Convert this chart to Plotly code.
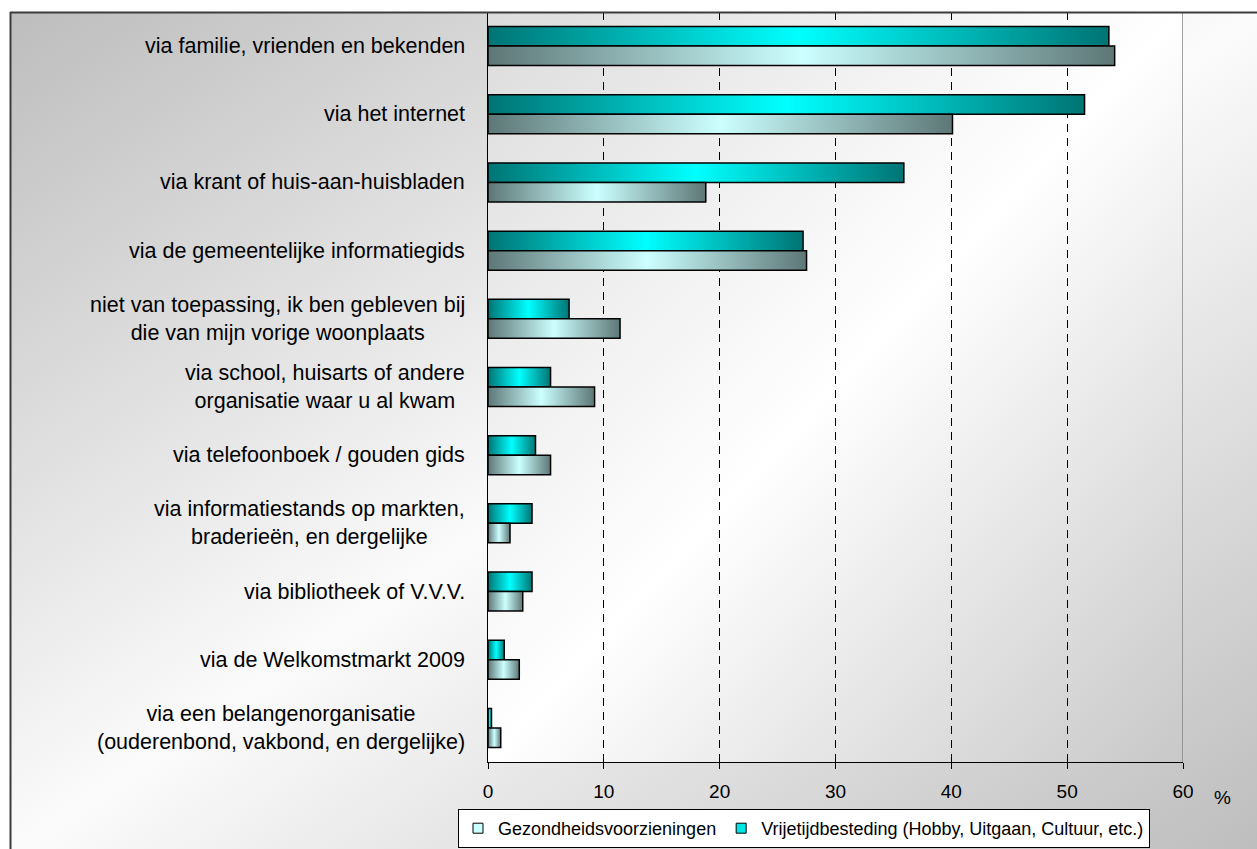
import base64
import plotly.graph_objects as go

# Categories (top to bottom) and percentages per series
categories = [
    "via familie, vrienden en bekenden",
    "via het internet",
    "via krant of huis-aan-huisbladen",
    "via de gemeentelijke informatiegids",
    "niet van toepassing, ik ben gebleven bij<br>die van mijn vorige woonplaats",
    "via school, huisarts of andere<br>organisatie waar u al kwam",
    "via telefoonboek / gouden gids",
    "via informatiestands op markten,<br>braderieën, en dergelijke",
    "via bibliotheek of V.V.V.",
    "via de Welkomstmarkt 2009",
    "via een belangenorganisatie<br>(ouderenbond, vakbond, en dergelijke)",
]
gezondheid = [54.1, 40.1, 18.8, 27.5, 11.4, 9.2, 5.4, 1.9, 3.0, 2.7, 1.1]
vrijetijd = [53.6, 51.5, 35.9, 27.2, 7.0, 5.4, 4.1, 3.8, 3.8, 1.4, 0.3]
series_names = ["Gezondheidsvoorzieningen",
                "Vrijetijdbesteding (Hobby, Uitgaan, Cultuur, etc.)"]
x_ticks = [0, 10, 20, 30, 40, 50, 60]

# Figure geometry (pixels)
W, H = 1257, 849
ML, MR, MT, MB = 488, 74, 12, 87
PW, PH = W - ML - MR, H - MT - MB


def paper_x(px):
    return (px - ML) / PW


def paper_y(py):
    return (H - MB - py) / PH


FONT = "Liberation Sans, Arial, sans-serif"
BAR_H = 0.286  # bar thickness in category units

cyan_scale = [[0, "#007474"], [0.5, "#00ffff"], [1, "#007474"]]
grey_scale = [[0, "#5e7777"], [0.5, "#ccffff"], [1, "#5e7777"]]

fig = go.Figure()

# Each bar is a filled polygon so it can carry a horizontal colour gradient
for i, (g, v) in enumerate(zip(gezondheid, vrijetijd)):
    fig.add_trace(go.Scatter(
        x=[0, v, v, 0, 0], y=[i - BAR_H, i - BAR_H, i, i, i - BAR_H],
        mode="lines", fill="toself",
        fillgradient=dict(type="horizontal", colorscale=cyan_scale),
        line=dict(color="black", width=1.5),
        name=series_names[1], legendgroup="v", showlegend=False,
        hovertemplate=f"{series_names[1]}: {v}%<extra></extra>",
    ))
    fig.add_trace(go.Scatter(
        x=[0, g, g, 0, 0], y=[i, i, i + BAR_H, i + BAR_H, i],
        mode="lines", fill="toself",
        fillgradient=dict(type="horizontal", colorscale=grey_scale),
        line=dict(color="black", width=1.5),
        name=series_names[0], legendgroup="g", showlegend=False,
        hovertemplate=f"{series_names[0]}: {g}%<extra></extra>",
    ))

# Legend keys
for name, col, grp in [(series_names[0], "#ccffff", "g"),
                       (series_names[1], "#00e5e5", "v")]:
    fig.add_trace(go.Scatter(
        x=[None], y=[None], mode="markers", name=name, legendgroup=grp,
        marker=dict(symbol="square", size=10, color=col,
                    line=dict(color="black", width=1)),
    ))


def gradient_svg(c0, c1, c2):
    svg = (
        '<svg xmlns="http://www.w3.org/2000/svg" width="100" height="100" '
        'viewBox="0 0 100 100" preserveAspectRatio="none"><defs>'
        '<linearGradient id="g" x1="0" y1="0" x2="1" y2="1">'
        f'<stop offset="0" stop-color="{c0}"/>'
        f'<stop offset="0.5" stop-color="{c1}"/>'
        f'<stop offset="1" stop-color="{c2}"/>'
        '</linearGradient></defs>'
        '<rect width="100" height="100" fill="url(#g)"/></svg>'
    )
    return "data:image/svg+xml;base64," + base64.b64encode(svg.encode()).decode()


images = [
    # chart area background
    dict(source=gradient_svg("#bdbdbd", "#fbfbfb", "#bdbdbd"),
         xref="paper", yref="paper", x=paper_x(10), y=1,
         sizex=paper_x(W + 5) - paper_x(10), sizey=1 - paper_y(H + 5),
         xanchor="left", yanchor="top", sizing="stretch", layer="below"),
    # plot area background
    dict(source=gradient_svg("#dcdcdc", "#ffffff", "#c8c8c8"),
         xref="paper", yref="paper", x=0, y=1, sizex=1, sizey=1,
         xanchor="left", yanchor="top", sizing="stretch", layer="below"),
]

annotations = [
    dict(text=c, x=0, xref="paper", y=i, yref="y", xanchor="right",
         xshift=-21, align="center", showarrow=False,
         font=dict(family=FONT, size=21.5, color="black"))
    for i, c in enumerate(categories)
]
annotations.append(dict(text="%", x=paper_x(1222), y=paper_y(797),
                        xref="paper", yref="paper", xanchor="center",
                        yanchor="middle", showarrow=False,
                        font=dict(family=FONT, size=19, color="black")))

shapes = [
    # plot area right edge
    dict(type="line", xref="x", yref="paper", x0=60, x1=60, y0=0, y1=1,
         line=dict(color="#858585", width=1.5), layer="above"),
    # chart area border (top and left)
    dict(type="line", xref="paper", yref="paper", x0=paper_x(10),
         x1=paper_x(W + 5), y0=paper_y(12.5), y1=paper_y(12.5),
         line=dict(color="#3c3c3c", width=2), layer="above"),
    dict(type="line", xref="paper", yref="paper", x0=paper_x(10.5),
         x1=paper_x(10.5), y0=paper_y(12), y1=paper_y(H + 5),
         line=dict(color="#3c3c3c", width=2), layer="above"),
]

fig.update_layout(
    width=W, height=H,
    margin=dict(l=ML, r=MR, t=MT, b=MB, autoexpand=False),
    paper_bgcolor="white", plot_bgcolor="rgba(0,0,0,0)",
    font=dict(family=FONT, color="black"),
    images=images, annotations=annotations, shapes=shapes,
    showlegend=True,
    legend=dict(orientation="h", x=paper_x(804), xanchor="center",
                y=paper_y(809), yanchor="top", bgcolor="white",
                bordercolor="black", borderwidth=1, itemwidth=30,
                font=dict(family=FONT, size=18, color="black")),
    xaxis=dict(range=[0, 60], tickvals=x_ticks, ticks="outside", ticklen=6,
               tickcolor="black", showline=True, linecolor="black",
               linewidth=1, showgrid=True, gridcolor="black", gridwidth=1,
               griddash="8px,6px", zeroline=False, ticklabelstandoff=6,
               tickfont=dict(family=FONT, size=19, color="black")),
    yaxis=dict(range=[len(categories) - 0.5, -0.5], showticklabels=False,
               showgrid=False, zeroline=False, showline=True,
               linecolor="black", linewidth=1, ticks=""),
)

fig.write_html("out.html")
